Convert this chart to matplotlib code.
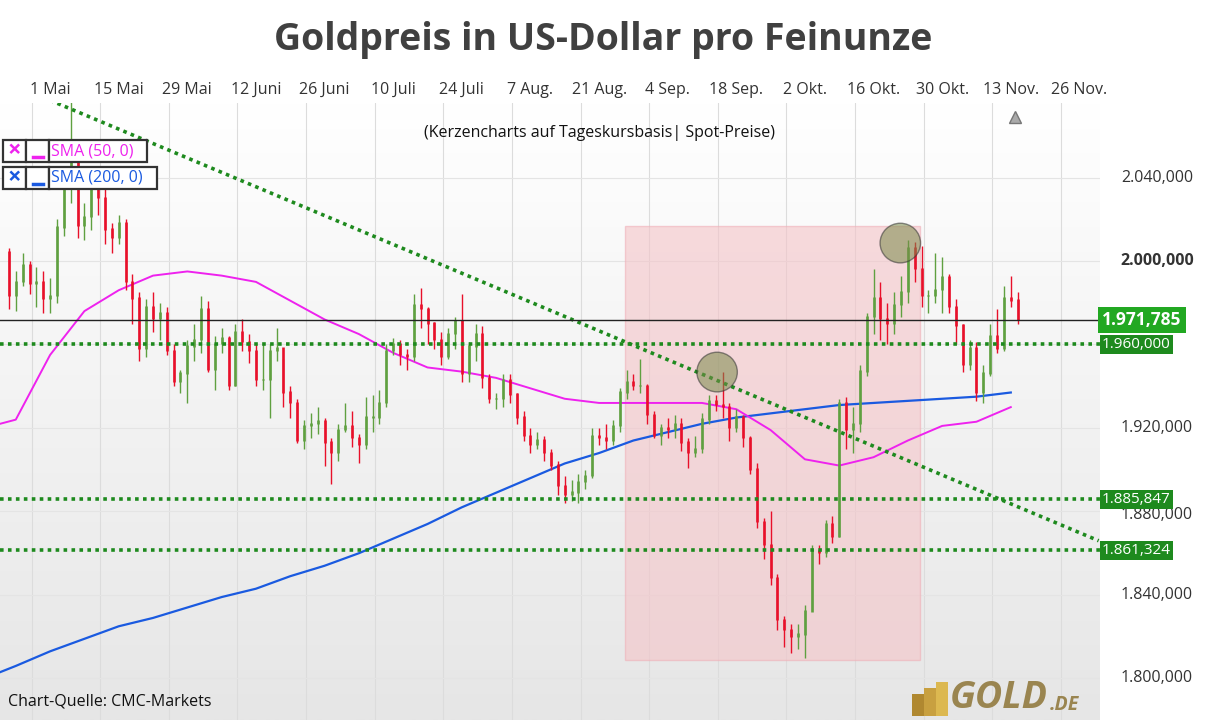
import numpy as np
import matplotlib
matplotlib.use("Agg")
import matplotlib.pyplot as plt
from matplotlib.patches import Rectangle, Ellipse

plt.rcParams["font.family"] = ["Open Sans", "DejaVu Sans"]

# daily candles, Apr 21 - Nov 20 2023 (US holidays skipped); index 0 = 1 May
first_open = 2004
closes = [1983, 1990, 1998, 1989, 1990, 1982,
          1983, 2016, 2039, 2050, 2017,
          2021, 2035, 2030, 2015, 2011,
          2018, 1990, 1982, 1958, 1978,
          1972, 1975, 1957, 1942, 1946,
          1959, 1962, 1977, 1948,
          1960, 1963, 1940, 1966, 1961,
          1957, 1943, 1943, 1957, 1958,
          1937, 1932, 1914, 1921,
          1922, 1923, 1913, 1908, 1919,
          1921, 1915, 1912, 1925,
          1925, 1932, 1957, 1960, 1955,
          1954, 1979, 1977, 1970, 1962,
          1954, 1965, 1971, 1946, 1959,
          1965, 1944, 1934, 1934, 1943,
          1936, 1925, 1916, 1912, 1914,
          1908, 1902, 1892, 1888, 1889,
          1894, 1897, 1916, 1915, 1914,
          1921, 1937, 1942, 1940, 1940,
          1926, 1916, 1920, 1919,
          1922, 1913, 1908, 1910, 1924,
          1933, 1931, 1930, 1920, 1925,
          1915, 1900, 1875, 1864, 1848,
          1828, 1823, 1820, 1821, 1832,
          1861, 1860, 1874, 1868, 1932,
          1919, 1922, 1947, 1973, 1982,
          1972, 1970, 1979, 1985, 2006,
          1996, 1983, 1983, 1986, 1992,
          1978, 1969, 1950, 1958, 1937,
          1946, 1964, 1958, 1982, 1981, 1971.785]
highs = [2006, 1995, 2004, 2000, 1997, 1995,
         1992, 2020, 2045, 2079, 2050,
         2028, 2038, 2043, 2038, 2018,
         2022, 2020, 1994, 1985, 1982,
         1985, 1980, 1978, 1960, 1948,
         1962, 1970, 1983, 1981,
         1964, 1968, 1964, 1970, 1972,
         1965, 1960, 1960, 1960, 1968,
         1953, 1940, 1934, 1924,
         1927, 1930, 1925, 1915, 1922,
         1932, 1928, 1917, 1935,
         1936, 1938, 1960, 1963, 1962,
         1958, 1984, 1987, 1978, 1971,
         1966, 1968, 1973, 1984, 1961,
         1970, 1969, 1946, 1937, 1946,
         1946, 1937, 1928, 1920, 1918,
         1916, 1910, 1904, 1897, 1895,
         1898, 1900, 1920, 1920, 1922,
         1924, 1939, 1948, 1946, 1953,
         1941, 1928, 1922, 1925,
         1926, 1925, 1915, 1916, 1927,
         1936, 1936, 1947, 1932, 1929,
         1926, 1916, 1903, 1877, 1880,
         1850, 1830, 1826, 1826, 1835,
         1864, 1864, 1876, 1878, 1934,
         1935, 1930, 1950, 1975, 1996,
         1990, 1980, 1985, 1993, 2010,
         2009, 2007, 1986, 2004, 2002,
         1994, 1982, 1970, 1962, 1961,
         1950, 1970, 1977, 1988, 1993, 1985]
lows = [1977, 1976, 1988, 1984, 1978, 1975,
        1975, 1980, 2012, 2028, 2011,
        2010, 2015, 2022, 2008, 2004,
        2008, 1986, 1970, 1952, 1954,
        1966, 1962, 1955, 1940, 1937,
        1932, 1952, 1956, 1947,
        1938, 1956, 1938, 1940, 1957,
        1951, 1940, 1938, 1925, 1952,
        1930, 1925, 1913, 1910,
        1915, 1917, 1902, 1893, 1904,
        1918, 1911, 1903, 1910,
        1918, 1922, 1930, 1955, 1950,
        1948, 1952, 1968, 1960, 1958,
        1950, 1953, 1958, 1942, 1942,
        1952, 1939, 1932, 1929, 1930,
        1932, 1922, 1914, 1908, 1910,
        1904, 1900, 1888, 1884, 1885,
        1884, 1891, 1896, 1912, 1910,
        1912, 1918, 1934, 1938, 1937,
        1922, 1915, 1912, 1915,
        1915, 1909, 1901, 1906, 1908,
        1922, 1928, 1925, 1914, 1918,
        1911, 1898, 1872, 1857, 1845,
        1823, 1815, 1812, 1814, 1810,
        1833, 1855, 1858, 1865, 1868,
        1910, 1908, 1918, 1945, 1965,
        1962, 1960, 1965, 1973, 1980,
        1990, 1978, 1975, 1980, 1975,
        1975, 1960, 1947, 1948, 1933,
        1932, 1945, 1956, 1957, 1978, 1970]

sma_idx = [-7.3] + list(range(-5, 141, 5))
sma50 = [1922, 1924, 1955, 1976, 1986, 1993, 1995, 1993, 1990, 1981, 1972, 1965, 1956,
         1949, 1947, 1944, 1939, 1934, 1932, 1932, 1932, 1932, 1929, 1919, 1905,
         1902, 1906, 1914, 1921, 1923, 1930]
sma200 = [1803, 1806, 1813, 1819, 1825, 1829, 1834, 1839, 1843, 1849, 1854, 1860, 1867,
          1874, 1882, 1889, 1896, 1903, 1908, 1914, 1918, 1922, 1925, 1927, 1929,
          1931, 1932, 1933, 1934, 1935, 1937]

tick_labels = ["1 Mai", "15 Mai", "29 Mai", "12 Juni", "26 Juni", "10 Juli", "24 Juli",
               "7 Aug.", "21 Aug.", "4 Sep.", "18 Sep.", "2 Okt.", "16 Okt.", "30 Okt.",
               "13 Nov.", "26 Nov."]
price_ticks = [1800, 1840, 1880, 1920, 2000, 2040]
grid_prices = [1800, 1840, 1880, 1920, 1960, 2000, 2040]
support_levels = [1960.000, 1885.847, 1861.324]
last_price = 1971.785
trend_start = (0, 2077)
trend_end = (152.8, 1866)

x = np.arange(len(closes)) - 6
opens = [first_open] + closes[:-1]

fig = plt.figure(figsize=(12.06, 7.2), dpi=100)
ax = fig.add_axes([0, 0, 1100 / 1206, 617 / 720])
xmin, xmax = -7.3, 153.0
ymin, ymax = 1780.1, 2075.7
ax.set_xlim(xmin, xmax)
ax.set_ylim(ymin, ymax)

grad = np.linspace(1, 0, 256).reshape(-1, 1)
ax.imshow(grad, cmap=matplotlib.colors.LinearSegmentedColormap.from_list("g", ["#e6e6e6", "#ffffff"]),
          extent=[xmin, xmax, ymin, ymax], aspect="auto", zorder=0)

for i in range(0, 151, 10):
    ax.axvline(i - 2.7, color="#dcdcdc", lw=0.8, zorder=1)
for p in grid_prices:
    ax.axhline(p, color="#e4e4e4", lw=0.8, zorder=1)

ax.add_patch(Rectangle((83.8, 1809), 43.0, 208, facecolor="#f4c4c8", alpha=0.6,
                       edgecolor="#f0b0b8", zorder=1.5))

ax.plot(sma_idx, sma200, color="#1a5ae0", lw=1.6, zorder=3)
ax.plot(sma_idx, sma50, color="#ee22ee", lw=1.4, zorder=3)

for xi, o, h, l, c in zip(x, opens, highs, lows, closes):
    col = "#5fa040" if c >= o else "#e8102a"
    ax.vlines(xi, l, h, color=col, lw=1.0, zorder=4)
    ax.vlines(xi, min(o, c), max(o, c) + 0.6, color=col, lw=1.9, zorder=4)

ax.plot([trend_start[0], trend_end[0]], [trend_start[1], trend_end[1]],
        color="#1e8a1e", lw=2.6, ls=(0, (1, 1.2)), zorder=5)
for lvl in support_levels:
    ax.axhline(lvl, color="#1e8a1e", lw=2.6, ls=(0, (1, 1.2)), zorder=5)
ax.axhline(last_price, color="#222222", lw=1.0, zorder=5)

for cx, cy in [(97.2, 1946.8), (123.9, 2008.6)]:
    ax.add_patch(Ellipse((cx, cy), 5.9, 19, facecolor="#7a8a4a", alpha=0.55,
                         edgecolor="#333333", lw=1.0, zorder=6))

ax.set_xticks([])
ax.set_yticks([])
for s in ax.spines.values():
    s.set_visible(False)

# date labels above the plot
for i, lab in enumerate(tick_labels):
    ax.text(i * 10, ymax + 2.5, lab, ha="center", va="bottom", fontsize=11.5,
            color="#333333", clip_on=False)

# price labels on the right
for p in price_ticks:
    yp = p - 1.5 if p == 1880 else p
    ax.text(161.3, yp, f"{p // 1000}.{p % 1000:03d},000", ha="center", va="center",
            fontsize=11.5, color="#333333", clip_on=False, zorder=2,
            fontweight="bold" if p == 2000 else "normal")
for lvl in support_levels:
    s = f"{lvl:.3f}".replace(".", ",")
    s = s[0] + "." + s[1:]
    ax.text(153.3, lvl, s, ha="left", va="center", fontsize=11, color="white",
            clip_on=False, zorder=8,
            bbox=dict(boxstyle="square,pad=0.12", fc="#1e8a1e", ec="none"))
ax.text(153.3, last_price, "1.971,785", ha="left", va="center", fontsize=12.5,
        color="white", fontweight="bold", clip_on=False, zorder=8,
        bbox=dict(boxstyle="square,pad=0.25", fc="#22a822", ec="none"))
ax.plot([140.6], [2069], marker="^", color="#aaaaaa", ms=8, mec="#777777", clip_on=False, zorder=7)

fig.text(0.5, 0.945, "Goldpreis in US-Dollar pro Feinunze", ha="center", va="center",
         fontsize=27, fontweight="bold", color="#404040")
fig.text(600 / 1206, 1 - 133 / 720, "(Kerzencharts auf Tageskursbasis| Spot-Preise)",
         ha="center", va="center", fontsize=11.5, color="#111111")

# legend boxes
W, H = 1206, 720
for top, right, col, lab in [(140, 147, "#ee22ee", "SMA (50, 0)"),
                             (167, 157, "#1a5ae0", "SMA (200, 0)")]:
    for x0, x1 in [(3, 26), (26, 49), (49, right)]:
        fig.patches.append(Rectangle((x0 / W, 1 - (top + 22) / H), (x1 - x0) / W, 22 / H,
                                     transform=fig.transFigure, fc="white",
                                     ec="#333333", lw=1.6, zorder=9))
    yc = 1 - (top + 11) / H
    fig.text(14.5 / W, yc, "×", ha="center", va="center", fontsize=17,
             fontweight="bold", color=col, zorder=10)
    fig.add_artist(plt.Line2D([33 / W, 43 / W], [1 - (top + 17) / H] * 2,
                              color=col, lw=2.5, zorder=10))
    fig.text(51 / W, yc, lab, ha="left", va="center", fontsize=11.5, color=col, zorder=10)

fig.text(8 / W, 1 - 701 / H, "Chart-Quelle: CMC-Markets", ha="left", va="center",
         fontsize=11.5, color="#111111")
fig.text(950 / W, 1 - 698 / H, "GOLD", ha="left", va="center", fontsize=27,
         fontweight="bold", style="italic", color="#9a8550")
fig.text(1050 / W, 1 - 705 / H, ".DE", ha="left", va="center", fontsize=14,
         fontweight="bold", style="italic", color="#9a8550")
for k, (bx, by, bh) in enumerate([(912, 716, 22), (924, 716, 28), (936, 716, 34)]):
    fig.patches.append(Rectangle((bx / W, 1 - by / H), 12 / W, bh / H,
                                 transform=fig.transFigure, fc=["#b08830", "#c8a040", "#dcb850"][k],
                                 ec="none"))

fig.savefig("out.png", dpi=100)
